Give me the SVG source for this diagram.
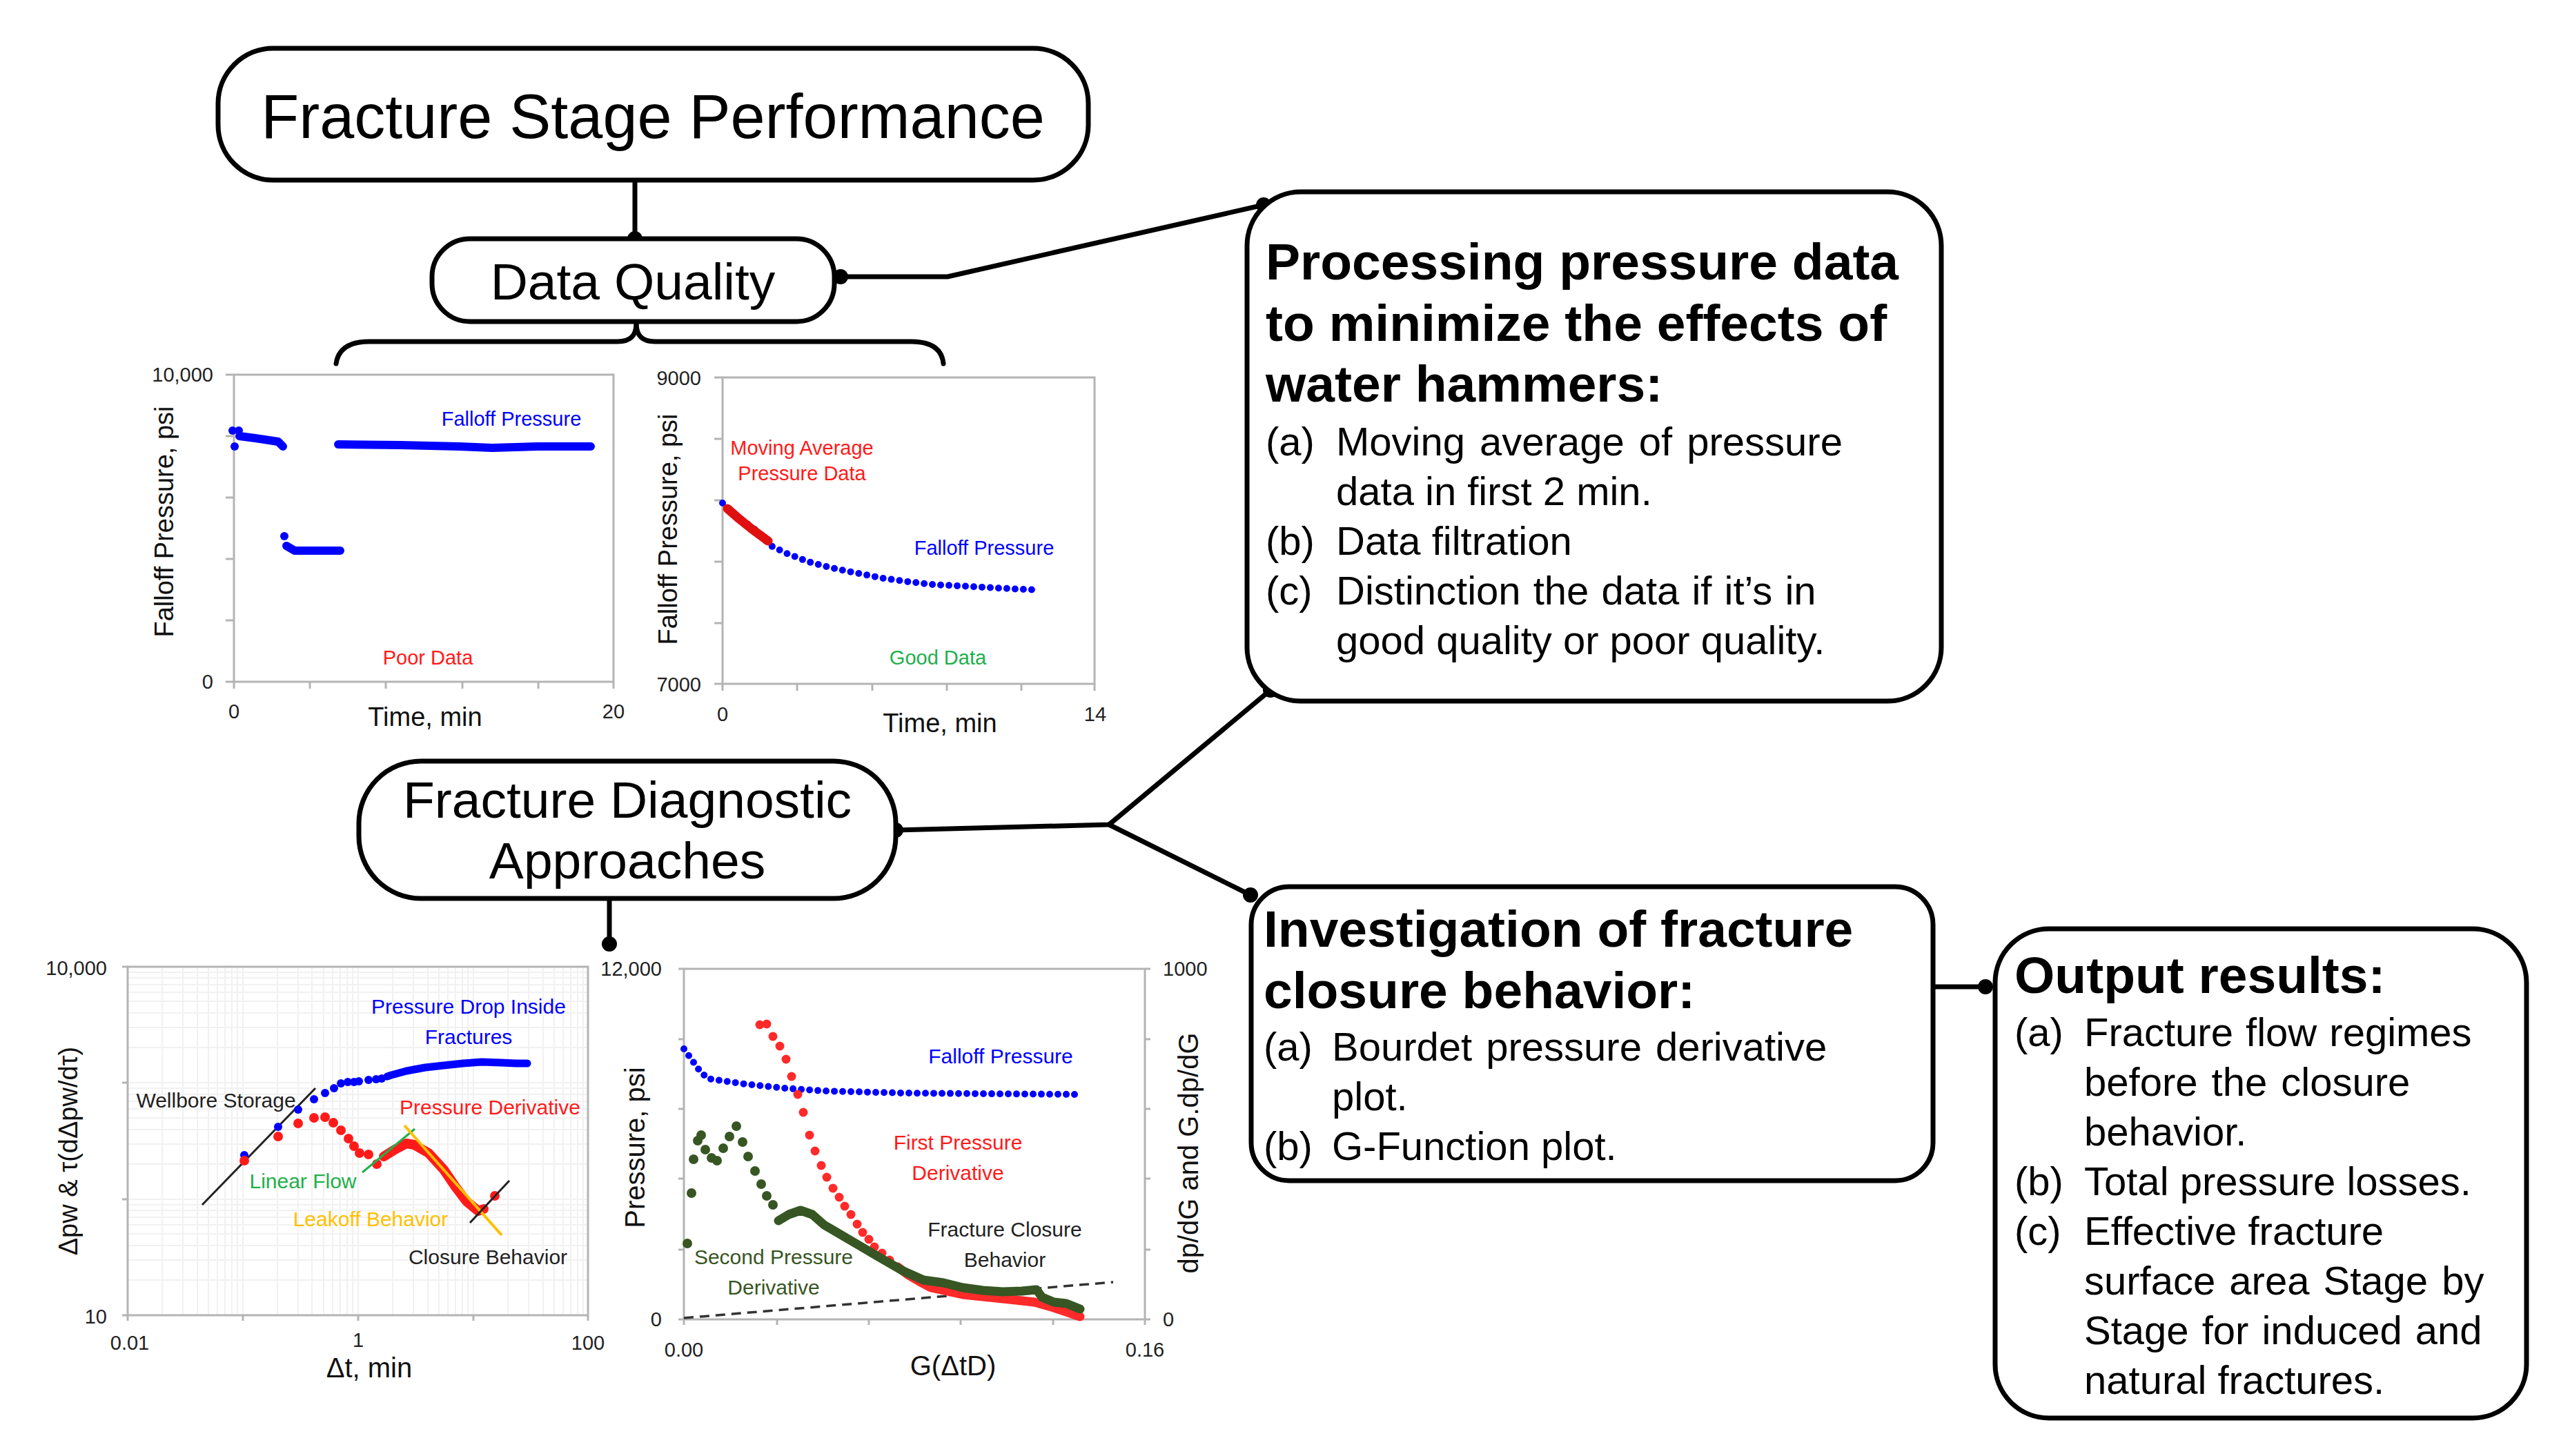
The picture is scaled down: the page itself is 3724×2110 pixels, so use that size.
<svg xmlns="http://www.w3.org/2000/svg" width="3724" height="2110" viewBox="0 0 3724 2110">
<defs>
<style>
text{font-family:"Liberation Sans",Arial,sans-serif;fill:#000}
.box{fill:#fff;stroke:#000;stroke-width:7}
.conn{fill:none;stroke:#000;stroke-width:7;stroke-linejoin:round;stroke-linecap:round}
.dot{fill:#000}
.h1{font-size:90px;text-anchor:middle}
.h2{font-size:75px;text-anchor:middle}
.bt{font-size:75px;font-weight:bold}
.it{font-size:58px}
.ax{fill:none;stroke:#b4b4b4;stroke-width:3}
.tick{stroke:#b4b4b4;stroke-width:3}
.grid{stroke:#f1f1f1;stroke-width:2}
.tk{font-size:29px;fill:#222}
.lab{font-size:38px;text-anchor:middle;fill:#111}
.ann{font-size:30px;text-anchor:middle}
.end{text-anchor:end}
.mid{text-anchor:middle}
.blue{fill:#0000ff}
.red{fill:#ff1a1a}
.green{fill:#21b04b}
.gold{fill:#ffc000}
.dgreen{fill:#375623}
.bdots{fill:none;stroke:#0000ff;stroke-width:10;stroke-linecap:round;stroke-linejoin:round;stroke-dasharray:0 12}
.bthick{fill:none;stroke:#0000ff;stroke-width:12;stroke-linecap:round;stroke-linejoin:round}
</style>
</defs>
<rect width="3724" height="2110" fill="#fff"/>

<!-- connectors -->
<g id="connectors">
  <line class="conn" x1="920" y1="261" x2="920" y2="346"/>
  <circle class="dot" cx="920" cy="346" r="11"/>
  <polyline class="conn" points="1218,401 1373,401 1831,297"/>
  <circle class="dot" cx="1218" cy="401" r="11"/>
  <circle class="dot" cx="1831" cy="297" r="11"/>
  <path class="conn" d="M922 440 L922 468 C922 486 914 495 895 495 L535 495 C505 495 490 506 487 527"/>
  <path class="conn" d="M922 468 C922 486 930 495 949 495 L1320 495 C1350 495 1365 506 1367 527"/>
  <polyline class="conn" points="1298,1203 1607,1195 1841,1000"/>
  <line class="conn" x1="1607" y1="1195" x2="1812" y2="1297"/>
  <circle class="dot" cx="1298" cy="1203" r="11"/>
  <circle class="dot" cx="1841" cy="1000" r="11"/>
  <circle class="dot" cx="1812" cy="1297" r="11"/>
  <line class="conn" x1="883" y1="1302" x2="883" y2="1368"/>
  <circle class="dot" cx="883" cy="1368" r="11"/>
  <line class="conn" x1="2801" y1="1430" x2="2877" y2="1430"/>
  <circle class="dot" cx="2877" cy="1430" r="11"/>
</g>

<!-- nodes -->
<g id="fsp">
  <rect class="box" x="316" y="70" width="1261" height="191" rx="80"/>
  <text class="h1" x="946" y="200">Fracture Stage Performance</text>
</g>
<g id="dq">
  <rect class="box" x="626" y="346" width="583" height="120" rx="55"/>
  <text class="h2" x="917" y="434">Data Quality</text>
</g>
<g id="fda">
  <rect class="box" x="520" y="1103" width="778" height="199" rx="90"/>
  <text class="h2" x="909" y="1185">Fracture Diagnostic</text>
  <text class="h2" x="909" y="1273">Approaches</text>
</g>
<g id="proc">
  <rect class="box" x="1807" y="278" width="1006" height="738" rx="78"/>
  <text class="bt" x="1834" y="405">Processing pressure data</text>
  <text class="bt" x="1834" y="494">to minimize the effects of</text>
  <text class="bt" x="1834" y="582">water hammers:</text>
  <text class="it" x="1834" y="660">(a)</text>
  <text class="it" x="1936" y="660" word-spacing="5">Moving average of pressure</text>
  <text class="it" x="1936" y="732">data in first 2 min.</text>
  <text class="it" x="1834" y="804">(b)</text>
  <text class="it" x="1936" y="804">Data filtration</text>
  <text class="it" x="1834" y="876">(c)</text>
  <text class="it" x="1936" y="876" word-spacing="2">Distinction the data if it’s in</text>
  <text class="it" x="1936" y="948">good quality or poor quality.</text>
</g>
<g id="inv">
  <rect class="box" x="1813" y="1285" width="988" height="426" rx="55"/>
  <text class="bt" x="1831" y="1372">Investigation of fracture</text>
  <text class="bt" x="1831" y="1461">closure behavior:</text>
  <text class="it" x="1831" y="1537">(a)</text>
  <text class="it" x="1930" y="1537" word-spacing="4">Bourdet pressure derivative</text>
  <text class="it" x="1930" y="1609">plot.</text>
  <text class="it" x="1831" y="1681">(b)</text>
  <text class="it" x="1930" y="1681">G-Function plot.</text>
</g>
<g id="out">
  <rect class="box" x="2891" y="1346" width="770" height="709" rx="78"/>
  <text class="bt" x="2919" y="1439">Output results:</text>
  <text class="it" x="2919" y="1516">(a)</text>
  <text class="it" x="3020" y="1516" word-spacing="2">Fracture flow regimes</text>
  <text class="it" x="3020" y="1588" word-spacing="4">before the closure</text>
  <text class="it" x="3020" y="1660">behavior.</text>
  <text class="it" x="2919" y="1732">(b)</text>
  <text class="it" x="3020" y="1732">Total pressure losses.</text>
  <text class="it" x="2919" y="1804">(c)</text>
  <text class="it" x="3020" y="1804">Effective fracture</text>
  <text class="it" x="3020" y="1876" word-spacing="4">surface area Stage by</text>
  <text class="it" x="3020" y="1948" word-spacing="3">Stage for induced and</text>
  <text class="it" x="3020" y="2020">natural fractures.</text>
</g>

<!-- Chart 1: poor data -->
<g id="chart-poor">
  <rect class="ax" x="339" y="543" width="550" height="445"/>
  <g class="tick">
    <line x1="327" y1="543" x2="339" y2="543"/><line x1="327" y1="632" x2="339" y2="632"/>
    <line x1="327" y1="721" x2="339" y2="721"/><line x1="327" y1="810" x2="339" y2="810"/>
    <line x1="327" y1="899" x2="339" y2="899"/><line x1="327" y1="988" x2="339" y2="988"/>
    <line x1="339" y1="988" x2="339" y2="998"/><line x1="449" y1="988" x2="449" y2="998"/>
    <line x1="559" y1="988" x2="559" y2="998"/><line x1="670" y1="988" x2="670" y2="998"/>
    <line x1="780" y1="988" x2="780" y2="998"/><line x1="889" y1="988" x2="889" y2="998"/>
  </g>
  <text class="tk end" x="309" y="553">10,000</text>
  <text class="tk end" x="309" y="998">0</text>
  <text class="tk mid" x="339" y="1041">0</text>
  <text class="tk mid" x="889" y="1041">20</text>
  <text class="lab" x="616" y="1052">Time, min</text>
  <text class="lab" transform="translate(251,756) rotate(-90)">Falloff Pressure, psi</text>
  <circle cx="337" cy="624" r="6" fill="#0000ff"/><circle cx="346" cy="624" r="6" fill="#0000ff"/><circle cx="340" cy="647" r="6" fill="#0000ff"/>
  <polyline class="bthick" points="347,632 370,635 403,640 410,647"/>
  <circle cx="412" cy="777" r="6" fill="#0000ff"/>
  <polyline class="bthick" points="415,791 427,798 460,798 493,798"/>
  <polyline class="bthick" points="490,644 580,645 665,647 713,649 780,647 856,647"/>
  <text class="tk blue mid" x="741" y="617">Falloff Pressure</text>
  <text class="tk red mid" x="620" y="963">Poor Data</text>
</g>

<!-- Chart 2: good data -->
<g id="chart-good">
  <rect class="ax" x="1047" y="547" width="539" height="444"/>
  <g class="tick">
    <line x1="1035" y1="547" x2="1047" y2="547"/><line x1="1035" y1="636" x2="1047" y2="636"/>
    <line x1="1035" y1="725" x2="1047" y2="725"/><line x1="1035" y1="814" x2="1047" y2="814"/>
    <line x1="1035" y1="903" x2="1047" y2="903"/><line x1="1035" y1="991" x2="1047" y2="991"/>
    <line x1="1047" y1="991" x2="1047" y2="1001"/><line x1="1155" y1="991" x2="1155" y2="1001"/>
    <line x1="1264" y1="991" x2="1264" y2="1001"/><line x1="1372" y1="991" x2="1372" y2="1001"/>
    <line x1="1480" y1="991" x2="1480" y2="1001"/><line x1="1586" y1="991" x2="1586" y2="1001"/>
  </g>
  <text class="tk end" x="1016" y="558">9000</text>
  <text class="tk end" x="1016" y="1002">7000</text>
  <text class="tk mid" x="1047" y="1045">0</text>
  <text class="tk mid" x="1587" y="1045">14</text>
  <text class="lab" x="1362" y="1061">Time, min</text>
  <text class="lab" transform="translate(981,767) rotate(-90)">Falloff Pressure, psi</text>
  <polyline class="bdots" points="1047,729 1060,741 1080,757 1100,772 1115,790 1140,802 1171,814 1205,823 1244,831 1280,838 1316,843 1350,847 1389,849 1425,851 1462,853 1505,855"/>
  <polyline fill="none" stroke="#e01010" stroke-width="13" stroke-linecap="round" points="1054,737 1070,751 1090,767 1113,784"/>
  <text class="tk red mid" x="1162" y="659">Moving Average</text>
  <text class="tk red mid" x="1162" y="696">Pressure Data</text>
  <text class="tk blue mid" x="1426" y="804">Falloff Pressure</text>
  <text class="tk green mid" x="1359" y="963">Good Data</text>
</g>

<!-- Chart 3: Bourdet derivative -->
<g id="chart-bourdet">
  <g class="grid">
    <line x1="235" y1="1401" x2="235" y2="1906"/><line x1="265" y1="1401" x2="265" y2="1906"/><line x1="286" y1="1401" x2="286" y2="1906"/><line x1="302" y1="1401" x2="302" y2="1906"/><line x1="315" y1="1401" x2="315" y2="1906"/><line x1="326" y1="1401" x2="326" y2="1906"/><line x1="336" y1="1401" x2="336" y2="1906"/><line x1="344" y1="1401" x2="344" y2="1906"/><line x1="352" y1="1401" x2="352" y2="1906"/>
    <line x1="402" y1="1401" x2="402" y2="1906"/><line x1="432" y1="1401" x2="432" y2="1906"/><line x1="452" y1="1401" x2="452" y2="1906"/><line x1="469" y1="1401" x2="469" y2="1906"/><line x1="482" y1="1401" x2="482" y2="1906"/><line x1="493" y1="1401" x2="493" y2="1906"/><line x1="503" y1="1401" x2="503" y2="1906"/><line x1="511" y1="1401" x2="511" y2="1906"/><line x1="519" y1="1401" x2="519" y2="1906"/>
    <line x1="569" y1="1401" x2="569" y2="1906"/><line x1="599" y1="1401" x2="599" y2="1906"/><line x1="620" y1="1401" x2="620" y2="1906"/><line x1="636" y1="1401" x2="636" y2="1906"/><line x1="649" y1="1401" x2="649" y2="1906"/><line x1="660" y1="1401" x2="660" y2="1906"/><line x1="670" y1="1401" x2="670" y2="1906"/><line x1="678" y1="1401" x2="678" y2="1906"/><line x1="686" y1="1401" x2="686" y2="1906"/>
    <line x1="736" y1="1401" x2="736" y2="1906"/><line x1="766" y1="1401" x2="766" y2="1906"/><line x1="787" y1="1401" x2="787" y2="1906"/><line x1="803" y1="1401" x2="803" y2="1906"/><line x1="816" y1="1401" x2="816" y2="1906"/><line x1="827" y1="1401" x2="827" y2="1906"/><line x1="837" y1="1401" x2="837" y2="1906"/><line x1="845" y1="1401" x2="845" y2="1906"/>
    <line x1="185" y1="1855" x2="852" y2="1855"/><line x1="185" y1="1826" x2="852" y2="1826"/><line x1="185" y1="1805" x2="852" y2="1805"/><line x1="185" y1="1788" x2="852" y2="1788"/><line x1="185" y1="1775" x2="852" y2="1775"/><line x1="185" y1="1764" x2="852" y2="1764"/><line x1="185" y1="1754" x2="852" y2="1754"/><line x1="185" y1="1746" x2="852" y2="1746"/><line x1="185" y1="1738" x2="852" y2="1738"/>
    <line x1="185" y1="1687" x2="852" y2="1687"/><line x1="185" y1="1658" x2="852" y2="1658"/><line x1="185" y1="1637" x2="852" y2="1637"/><line x1="185" y1="1620" x2="852" y2="1620"/><line x1="185" y1="1607" x2="852" y2="1607"/><line x1="185" y1="1596" x2="852" y2="1596"/><line x1="185" y1="1586" x2="852" y2="1586"/><line x1="185" y1="1577" x2="852" y2="1577"/><line x1="185" y1="1569" x2="852" y2="1569"/>
    <line x1="185" y1="1518" x2="852" y2="1518"/><line x1="185" y1="1489" x2="852" y2="1489"/><line x1="185" y1="1468" x2="852" y2="1468"/><line x1="185" y1="1451" x2="852" y2="1451"/><line x1="185" y1="1438" x2="852" y2="1438"/><line x1="185" y1="1427" x2="852" y2="1427"/><line x1="185" y1="1417" x2="852" y2="1417"/><line x1="185" y1="1409" x2="852" y2="1409"/>
  </g>
  <rect class="ax" x="185" y="1401" width="667" height="505"/>
  <g class="tick">
    <line x1="177" y1="1401" x2="185" y2="1401"/><line x1="177" y1="1569" x2="185" y2="1569"/><line x1="177" y1="1738" x2="185" y2="1738"/><line x1="177" y1="1906" x2="185" y2="1906"/>
    <line x1="185" y1="1906" x2="185" y2="1914"/><line x1="352" y1="1906" x2="352" y2="1914"/><line x1="519" y1="1906" x2="519" y2="1914"/><line x1="686" y1="1906" x2="686" y2="1914"/><line x1="852" y1="1906" x2="852" y2="1914"/>
  </g>
  <text class="tk end" x="155" y="1413">10,000</text>
  <text class="tk end" x="155" y="1918">10</text>
  <text class="tk mid" x="188" y="1956">0.01</text>
  <text class="tk mid" x="519" y="1952">1</text>
  <text class="tk mid" x="852" y="1956">100</text>
  <text class="lab" x="535" y="1996" style="font-size:40px">Δt, min</text>
  <text class="lab" transform="translate(112,1668) rotate(-90)">Δpw &amp; τ(dΔpw/dτ)</text>
  <line x1="293" y1="1746" x2="457" y2="1577" stroke="#222" stroke-width="3"/>
  <g fill="#0000ff">
    <circle cx="354" cy="1674" r="6"/><circle cx="403" cy="1633" r="6"/><circle cx="432" cy="1608" r="6"/><circle cx="455" cy="1593" r="6"/><circle cx="471" cy="1584" r="6"/><circle cx="484" cy="1577" r="6"/><circle cx="494" cy="1570" r="6"/><circle cx="504" cy="1568" r="6"/><circle cx="513" cy="1568" r="6"/><circle cx="520" cy="1567" r="6"/><circle cx="534" cy="1565" r="6"/><circle cx="545" cy="1564" r="6"/><circle cx="553" cy="1563" r="6"/>
  </g>
  <polyline class="bthick" style="stroke-width:11" points="561,1560 567,1558 589,1552 616,1547 643,1544 671,1541 698,1539 726,1540 748,1541 764,1541"/>
  <g fill="#ff1a1a">
    <circle cx="354" cy="1682" r="7"/><circle cx="403" cy="1647" r="7"/><circle cx="432" cy="1628" r="7"/><circle cx="455" cy="1620" r="7"/><circle cx="471" cy="1619" r="7"/><circle cx="483" cy="1627" r="7"/><circle cx="494" cy="1638" r="7"/><circle cx="505" cy="1650" r="7"/><circle cx="513" cy="1661" r="7"/><circle cx="521" cy="1671" r="7"/><circle cx="534" cy="1673" r="7"/><circle cx="546" cy="1687" r="7"/><circle cx="717" cy="1733" r="7"/>
  </g>
  <polyline fill="none" stroke="#ff1a1a" stroke-width="14" stroke-linecap="round" stroke-linejoin="round" points="556,1676 572,1666 589,1657 600,1659 621,1671 643,1695 660,1720 676,1741 693,1755 701,1752"/>
  <line x1="525" y1="1699" x2="601" y2="1636" stroke="#21b04b" stroke-width="3"/>
  <line x1="586" y1="1631" x2="727" y2="1790" stroke="#ffc000" stroke-width="4"/>
  <line x1="681" y1="1772" x2="738" y2="1711" stroke="#222" stroke-width="3"/>
  <text class="ann blue" x="679" y="1469">Pressure Drop Inside</text>
  <text class="ann blue" x="679" y="1513">Fractures</text>
  <text class="ann" x="313" y="1605" style="fill:#222">Wellbore Storage</text>
  <text class="ann red" x="710" y="1615">Pressure Derivative</text>
  <text class="ann green" x="439" y="1722">Linear Flow</text>
  <text class="ann gold" x="537" y="1777">Leakoff Behavior</text>
  <text class="ann" x="707" y="1832" style="fill:#222">Closure Behavior</text>
</g>

<!-- Chart 4: G-function -->
<g id="chart-gfunction">
  <rect class="ax" x="991" y="1404" width="668" height="508"/>
  <g class="tick">
    <line x1="983" y1="1404" x2="991" y2="1404"/><line x1="983" y1="1506" x2="991" y2="1506"/><line x1="983" y1="1607" x2="991" y2="1607"/><line x1="983" y1="1708" x2="991" y2="1708"/><line x1="983" y1="1811" x2="991" y2="1811"/><line x1="983" y1="1912" x2="991" y2="1912"/>
    <line x1="1659" y1="1404" x2="1667" y2="1404"/><line x1="1659" y1="1506" x2="1667" y2="1506"/><line x1="1659" y1="1607" x2="1667" y2="1607"/><line x1="1659" y1="1708" x2="1667" y2="1708"/><line x1="1659" y1="1811" x2="1667" y2="1811"/><line x1="1659" y1="1912" x2="1667" y2="1912"/>
    <line x1="991" y1="1912" x2="991" y2="1920"/><line x1="1126" y1="1912" x2="1126" y2="1920"/><line x1="1259" y1="1912" x2="1259" y2="1920"/><line x1="1392" y1="1912" x2="1392" y2="1920"/><line x1="1526" y1="1912" x2="1526" y2="1920"/><line x1="1659" y1="1912" x2="1659" y2="1920"/>
  </g>
  <text class="tk end" x="959" y="1414">12,000</text>
  <text class="tk end" x="959" y="1922">0</text>
  <text class="tk" x="1685" y="1414">1000</text>
  <text class="tk" x="1685" y="1922">0</text>
  <text class="tk mid" x="991" y="1966">0.00</text>
  <text class="tk mid" x="1659" y="1966">0.16</text>
  <text class="lab" x="1381" y="1993" style="font-size:40px">G(ΔtD)</text>
  <text class="lab" transform="translate(934,1663) rotate(-90)" style="font-size:40px">Pressure, psi</text>
  <text class="lab" transform="translate(1736,1671) rotate(-90)" style="font-size:40px">dp/dG and G.dp/dG</text>
  <line x1="991" y1="1910" x2="1613" y2="1858" stroke="#333" stroke-width="3.5" stroke-dasharray="14 9"/>
  <polyline class="bdots" points="991,1520 999,1531 1011,1548 1025,1563 1039,1565 1080,1571 1137,1577 1194,1581 1309,1584 1424,1585 1565,1586"/>
  <g fill="#ff2a2a">
    <circle cx="1101" cy="1485" r="6.5"/><circle cx="1111" cy="1484" r="6.5"/><circle cx="1120" cy="1502" r="6.5"/><circle cx="1130" cy="1516" r="6.5"/><circle cx="1139" cy="1535" r="6.5"/><circle cx="1147" cy="1560" r="6.5"/><circle cx="1156" cy="1586" r="6.5"/><circle cx="1164" cy="1612" r="6.5"/><circle cx="1173" cy="1645" r="6.5"/><circle cx="1181" cy="1668" r="6.5"/><circle cx="1190" cy="1689" r="6.5"/><circle cx="1198" cy="1706" r="6.5"/><circle cx="1207" cy="1722" r="6.5"/><circle cx="1216" cy="1735" r="6.5"/><circle cx="1224" cy="1748" r="6.5"/><circle cx="1233" cy="1760" r="6.5"/><circle cx="1242" cy="1774" r="6.5"/><circle cx="1250" cy="1786" r="6.5"/><circle cx="1259" cy="1796" r="6.5"/><circle cx="1267" cy="1807" r="6.5"/><circle cx="1278" cy="1816" r="6.5"/><circle cx="1289" cy="1826" r="6.5"/>
  </g>
  <polyline fill="none" stroke="#ff2a2a" stroke-width="13" stroke-linecap="round" stroke-linejoin="round" points="1301,1836 1315,1847 1332,1857 1349,1866 1395,1876 1453,1882 1499,1887 1527,1895 1545,1901 1565,1908"/>
  <g fill="#375623">
    <circle cx="996" cy="1802" r="7"/><circle cx="1002" cy="1729" r="7"/><circle cx="1005" cy="1680" r="7"/><circle cx="1011" cy="1653" r="7"/><circle cx="1016" cy="1645" r="7"/><circle cx="1022" cy="1666" r="7"/><circle cx="1031" cy="1678" r="7"/><circle cx="1039" cy="1682" r="7"/><circle cx="1048" cy="1664" r="7"/><circle cx="1057" cy="1647" r="7"/><circle cx="1067" cy="1632" r="7"/><circle cx="1076" cy="1655" r="7"/><circle cx="1084" cy="1676" r="7"/><circle cx="1094" cy="1697" r="7"/><circle cx="1103" cy="1716" r="7"/><circle cx="1111" cy="1733" r="7"/><circle cx="1120" cy="1746" r="7"/>
  </g>
  <polyline fill="none" stroke="#375623" stroke-width="13" stroke-linecap="round" stroke-linejoin="round" points="1128,1769 1143,1760 1160,1754 1177,1760 1194,1775 1223,1792 1252,1809 1281,1826 1309,1842 1338,1855 1367,1859 1395,1866 1424,1870 1453,1872 1481,1871 1502,1869 1510,1880 1527,1887 1545,1889 1565,1897"/>
  <text class="ann blue" x="1450" y="1541">Falloff Pressure</text>
  <text class="ann red" x="1388" y="1666">First Pressure</text>
  <text class="ann red" x="1388" y="1710">Derivative</text>
  <text class="ann" x="1456" y="1792" style="fill:#222">Fracture Closure</text>
  <text class="ann" x="1456" y="1836" style="fill:#222">Behavior</text>
  <text class="ann dgreen" x="1121" y="1832">Second Pressure</text>
  <text class="ann dgreen" x="1121" y="1876">Derivative</text>
</g>
</svg>
